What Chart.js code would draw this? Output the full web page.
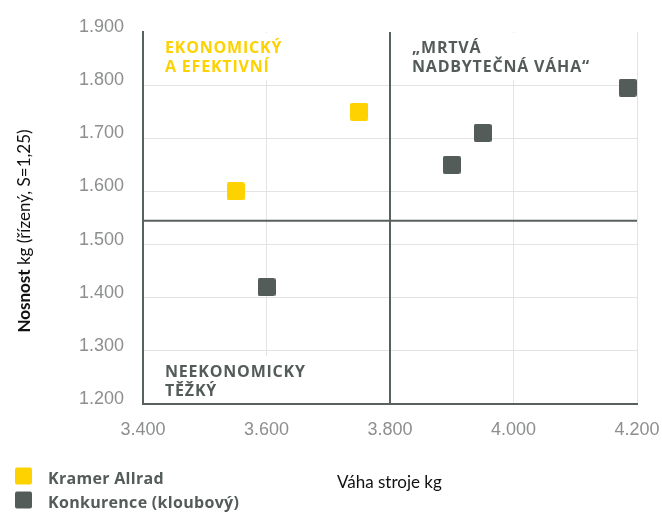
<!DOCTYPE html>
<html>
<head>
<meta charset="utf-8">
<script src="https://cdn.jsdelivr.net/npm/chart.js@4.4.1/dist/chart.umd.min.js"></script>
<style>
  html, body { margin: 0; padding: 0; background: #fff; }
  #wrap { width: 662px; height: 512px; }
</style>
</head>
<body>
<div id="wrap"><canvas id="chart" width="662" height="512"></canvas></div>
<script>
// data
const kramerX = [3550, 3750];
const kramerY = [1600, 1750];
const konkX = [3600, 3900, 3950, 4185];
const konkY = [1420, 1650, 1710, 1795];
const splitX = 3800;
const splitY = 1545;
const seriesNames = ['Kramer Allrad', 'Konkurence (kloubový)'];
const quadrantTexts = {
  topLeft: ['EKONOMICKÝ', 'A EFEKTIVNÍ'],
  topRight: ['\u201EMRTVÁ', 'NADBYTEČNÁ VÁHA\u201C'],
  bottomLeft: ['NEEKONOMICKY', 'TĚŽKÝ'],
};
const xTitle = 'Váha stroje kg';
const yTitleBold = 'Nosnost';
const yTitleRest = ' kg (řízený, S=1,25)';

const YELLOW = '#FDD200';
const DARK = '#545C5A';
const AXIS = '#59615F';
const GRID = '#E3E3E3';
const TICK = '#8C8F8E';

function squareMarker(color, size, r) {
  const c = document.createElement('canvas');
  c.width = size; c.height = size;
  const g = c.getContext('2d');
  g.fillStyle = color;
  g.beginPath();
  g.roundRect(0, 0, size, size, r);
  g.fill();
  return c;
}

const fmt = v => (v / 1000).toFixed(3);

const overlay = {
  id: 'overlay',
  beforeDatasetsDraw(chart) {
    const { ctx, chartArea: a, scales: { x, y } } = chart;
    const cx = x.getPixelForValue(splitX);
    const cy = y.getPixelForValue(splitY);
    ctx.save();
    // white boxes behind quadrant captions (hide grid lines there)
    ctx.fillStyle = '#fff';
    ctx.fillRect(a.left + 15, a.top + 1, 135, 47);
    ctx.fillRect(cx + 14, a.top + 1, 200, 47);
    ctx.fillRect(a.left + 15, a.bottom - 48, 150, 47);
    // crosshair
    ctx.strokeStyle = AXIS;
    ctx.lineWidth = 2;
    ctx.beginPath();
    ctx.moveTo(cx, a.top); ctx.lineTo(cx, a.bottom);
    ctx.moveTo(a.left, cy); ctx.lineTo(a.right, cy);
    ctx.stroke();
    // captions
    ctx.font = 'bold 16px "Open Sans"';
    ctx.letterSpacing = '0.8px';
    ctx.textBaseline = 'middle';
    ctx.textAlign = 'left';
    ctx.fillStyle = YELLOW;
    quadrantTexts.topLeft.forEach((t, i) => ctx.fillText(t, a.left + 22, a.top + 16 + i * 19));
    ctx.fillStyle = DARK;
    quadrantTexts.topRight.forEach((t, i) => ctx.fillText(t, cx + 22, a.top + 16 + i * 19));
    quadrantTexts.bottomLeft.forEach((t, i) => ctx.fillText(t, a.left + 22, a.bottom - 32 + i * 19));
    ctx.restore();
  },
  afterDraw(chart) {
    const { ctx } = chart;
    ctx.save();
    // x title
    ctx.fillStyle = '#111';
    ctx.font = '17px Lato';
    ctx.textBaseline = 'middle';
    ctx.textAlign = 'left';
    ctx.fillText(xTitle, 337, 483);
    // y title, rotated, first word bold
    ctx.translate(25, 231);
    ctx.rotate(-Math.PI / 2);
    ctx.font = 'bold 17px Lato';
    const w1 = ctx.measureText(yTitleBold).width;
    ctx.font = '17px Lato';
    const w2 = ctx.measureText(yTitleRest).width;
    const sx = -(w1 + w2) / 2;
    ctx.font = 'bold 17px Lato';
    ctx.fillText(yTitleBold, sx, 0);
    ctx.font = '17px Lato';
    ctx.fillText(yTitleRest, sx + w1, 0);
    ctx.restore();
    // legend
    ctx.save();
    const cols = [YELLOW, DARK];
    ctx.font = 'bold 16px "Open Sans"';
    ctx.letterSpacing = '0.3px';
    ctx.textBaseline = 'middle';
    seriesNames.forEach((n, i) => {
      const cy = 476 + i * 24;
      ctx.fillStyle = cols[i];
      ctx.beginPath();
      ctx.roundRect(15, cy - 8.5, 17, 17, 2);
      ctx.fill();
      ctx.fillStyle = DARK;
      ctx.fillText(n, 48, cy + 3);
    });
    ctx.restore();
  }
};

new Chart(document.getElementById('chart'), {
  type: 'scatter',
  data: {
    datasets: [
      {
        label: seriesNames[0],
        data: kramerX.map((v, i) => ({ x: v, y: kramerY[i] })),
        pointStyle: squareMarker(YELLOW, 18, 2),
        backgroundColor: YELLOW, clip: false,
      },
      {
        label: seriesNames[1],
        data: konkX.map((v, i) => ({ x: v, y: konkY[i] })),
        pointStyle: squareMarker(DARK, 18, 2),
        backgroundColor: DARK, clip: false,
      }
    ]
  },
  options: {
    responsive: false, animation: false, devicePixelRatio: 1,
    events: [],
    layout: { padding: { top: 32, right: 25, left: 0, bottom: 0 } },
    plugins: { legend: { display: false }, tooltip: { enabled: false } },
    scales: {
      x: {
        type: 'linear', min: 3400, max: 4200,
        afterFit: s => { s.height = 108; s.paddingLeft = 0; s.paddingRight = 0; },
        border: { color: AXIS, width: 2 },
        grid: { drawTicks: false, color: c => (c.tick && (c.tick.value === 3400 || c.tick.value === 3800)) ? 'rgba(0,0,0,0)' : GRID },
        ticks: { stepSize: 200, padding: 15, color: TICK, font: { family: 'Liberation Sans', size: 18 }, callback: fmt, maxRotation: 0 }
      },
      y: {
        min: 1200, max: 1900,
        afterFit: s => { s.width = 143; s.paddingTop = 0; s.paddingBottom = 0; },
        border: { color: AXIS, width: 2 },
        grid: { drawTicks: false, color: c => (c.tick && (c.tick.value === 1900 || c.tick.value === 1200)) ? 'rgba(0,0,0,0)' : GRID },
        ticks: { stepSize: 100, padding: 19, labelOffset: -5, color: TICK, font: { family: 'Liberation Sans', size: 18 }, callback: fmt }
      }
    }
  },
  plugins: [overlay]
});
</script>
</body>
</html>
